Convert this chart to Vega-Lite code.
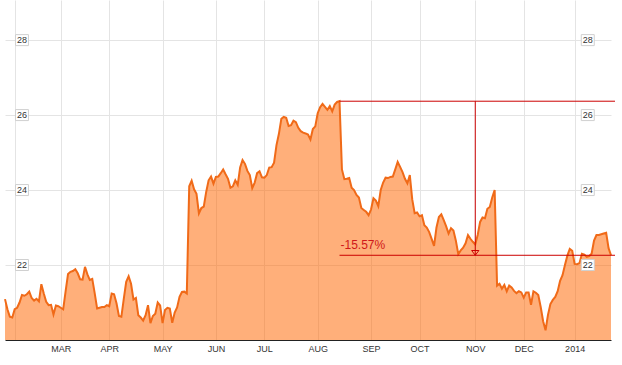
{
  "$schema": "https://vega.github.io/schema/vega-lite/v6.json",
  "autosize": {"type": "none"},
  "padding": {"left": 5, "top": 0, "right": 0, "bottom": 25},
  "width": 617,
  "height": 340,
  "background": "white",
  "view": {"stroke": null},
  "config": {"axis": {"gridColor": "#e4e4e4", "gridWidth": 1}},
  "datasets": {
    "prices": [
      {"date":"2013-01-28","close":21.09},{"date":"2013-01-29","close":20.82},{"date":"2013-01-30","close":20.62},{"date":"2013-01-31","close":20.6},
      {"date":"2013-02-01","close":20.82},{"date":"2013-02-04","close":20.86},{"date":"2013-02-05","close":21.0},{"date":"2013-02-06","close":21.2},{"date":"2013-02-07","close":21.18},{"date":"2013-02-08","close":21.22},{"date":"2013-02-11","close":21.29},{"date":"2013-02-12","close":21.12},{"date":"2013-02-13","close":21.05},{"date":"2013-02-14","close":21.1},{"date":"2013-02-15","close":21.03},{"date":"2013-02-19","close":21.49},{"date":"2013-02-20","close":21.24},{"date":"2013-02-21","close":21.02},{"date":"2013-02-22","close":20.93},{"date":"2013-02-25","close":20.94},{"date":"2013-02-26","close":20.68},{"date":"2013-02-27","close":20.92},{"date":"2013-02-28","close":20.9},
      {"date":"2013-03-01","close":20.86},{"date":"2013-03-04","close":20.82},{"date":"2013-03-05","close":21.3},{"date":"2013-03-06","close":21.76},{"date":"2013-03-07","close":21.82},{"date":"2013-03-08","close":21.84},{"date":"2013-03-11","close":21.89},{"date":"2013-03-12","close":21.78},{"date":"2013-03-13","close":21.62},{"date":"2013-03-14","close":21.61},{"date":"2013-03-15","close":21.95},{"date":"2013-03-18","close":21.75},{"date":"2013-03-19","close":21.6},{"date":"2013-03-20","close":21.63},{"date":"2013-03-21","close":21.25},{"date":"2013-03-22","close":20.84},{"date":"2013-03-25","close":20.86},{"date":"2013-03-26","close":20.88},{"date":"2013-03-27","close":20.88},{"date":"2013-03-28","close":20.93},
      {"date":"2013-04-01","close":20.9},{"date":"2013-04-02","close":21.24},{"date":"2013-04-03","close":21.22},{"date":"2013-04-04","close":20.98},{"date":"2013-04-05","close":20.64},{"date":"2013-04-08","close":20.62},{"date":"2013-04-09","close":21.1},{"date":"2013-04-10","close":21.55},{"date":"2013-04-11","close":21.7},{"date":"2013-04-12","close":21.5},{"date":"2013-04-15","close":21.08},{"date":"2013-04-16","close":21.12},{"date":"2013-04-17","close":20.66},{"date":"2013-04-18","close":20.6},{"date":"2013-04-19","close":20.52},{"date":"2013-04-22","close":20.66},{"date":"2013-04-23","close":20.93},{"date":"2013-04-24","close":20.45},{"date":"2013-04-25","close":20.64},{"date":"2013-04-26","close":20.7},{"date":"2013-04-29","close":21.0},{"date":"2013-04-30","close":20.92},
      {"date":"2013-05-01","close":20.45},{"date":"2013-05-02","close":20.8},{"date":"2013-05-03","close":20.86},{"date":"2013-05-06","close":20.84},{"date":"2013-05-07","close":20.46},{"date":"2013-05-08","close":20.73},{"date":"2013-05-09","close":20.87},{"date":"2013-05-10","close":21.15},{"date":"2013-05-13","close":21.28},{"date":"2013-05-14","close":21.29},{"date":"2013-05-15","close":21.24},{"date":"2013-05-16","close":24.1},{"date":"2013-05-17","close":24.25},{"date":"2013-05-20","close":24.02},{"date":"2013-05-21","close":23.9},{"date":"2013-05-22","close":23.38},{"date":"2013-05-23","close":23.52},{"date":"2013-05-24","close":23.56},{"date":"2013-05-28","close":23.95},{"date":"2013-05-29","close":24.26},{"date":"2013-05-30","close":24.36},{"date":"2013-05-31","close":24.17},
      {"date":"2013-06-03","close":24.35},{"date":"2013-06-04","close":24.36},{"date":"2013-06-05","close":24.45},{"date":"2013-06-06","close":24.55},{"date":"2013-06-07","close":24.42},{"date":"2013-06-10","close":24.3},{"date":"2013-06-11","close":24.06},{"date":"2013-06-12","close":24.1},{"date":"2013-06-13","close":24.26},{"date":"2013-06-14","close":24.14},{"date":"2013-06-17","close":24.6},{"date":"2013-06-18","close":24.8},{"date":"2013-06-19","close":24.7},{"date":"2013-06-20","close":24.51},{"date":"2013-06-21","close":24.4},{"date":"2013-06-24","close":24.05},{"date":"2013-06-25","close":24.2},{"date":"2013-06-26","close":24.45},{"date":"2013-06-27","close":24.5},{"date":"2013-06-28","close":24.34},
      {"date":"2013-07-01","close":24.33},{"date":"2013-07-02","close":24.4},{"date":"2013-07-03","close":24.6},{"date":"2013-07-05","close":24.61},{"date":"2013-07-08","close":24.73},{"date":"2013-07-09","close":25.2},{"date":"2013-07-10","close":25.5},{"date":"2013-07-11","close":25.9},{"date":"2013-07-12","close":25.95},{"date":"2013-07-15","close":25.93},{"date":"2013-07-16","close":25.71},{"date":"2013-07-17","close":25.73},{"date":"2013-07-18","close":25.85},{"date":"2013-07-19","close":25.81},{"date":"2013-07-22","close":25.66},{"date":"2013-07-23","close":25.57},{"date":"2013-07-24","close":25.53},{"date":"2013-07-25","close":25.51},{"date":"2013-07-26","close":25.48},{"date":"2013-07-29","close":25.35},{"date":"2013-07-30","close":25.63},{"date":"2013-07-31","close":25.7},
      {"date":"2013-08-01","close":26.05},{"date":"2013-08-02","close":26.21},{"date":"2013-08-05","close":26.3},{"date":"2013-08-06","close":26.22},{"date":"2013-08-07","close":26.14},{"date":"2013-08-08","close":26.24},{"date":"2013-08-09","close":26.1},{"date":"2013-08-12","close":26.28},{"date":"2013-08-13","close":26.35},{"date":"2013-08-14","close":26.37},{"date":"2013-08-15","close":24.55},{"date":"2013-08-16","close":24.29},{"date":"2013-08-19","close":24.3},{"date":"2013-08-20","close":24.32},{"date":"2013-08-21","close":24.06},{"date":"2013-08-22","close":24.0},{"date":"2013-08-23","close":23.87},{"date":"2013-08-26","close":23.8},{"date":"2013-08-27","close":23.52},{"date":"2013-08-28","close":23.47},{"date":"2013-08-29","close":23.42},{"date":"2013-08-30","close":23.33},
      {"date":"2013-09-03","close":23.48},{"date":"2013-09-04","close":23.78},{"date":"2013-09-05","close":23.72},{"date":"2013-09-06","close":23.57},{"date":"2013-09-09","close":24.0},{"date":"2013-09-10","close":24.2},{"date":"2013-09-11","close":24.33},{"date":"2013-09-12","close":24.32},{"date":"2013-09-13","close":24.35},{"date":"2013-09-16","close":24.36},{"date":"2013-09-17","close":24.55},{"date":"2013-09-18","close":24.75},{"date":"2013-09-19","close":24.62},{"date":"2013-09-20","close":24.48},{"date":"2013-09-23","close":24.3},{"date":"2013-09-24","close":24.18},{"date":"2013-09-25","close":24.4},{"date":"2013-09-26","close":23.75},{"date":"2013-09-27","close":23.38},{"date":"2013-09-30","close":23.4},
      {"date":"2013-10-01","close":23.3},{"date":"2013-10-02","close":23.33},{"date":"2013-10-03","close":23.06},{"date":"2013-10-04","close":23.0},{"date":"2013-10-07","close":22.88},{"date":"2013-10-08","close":22.7},{"date":"2013-10-09","close":22.51},{"date":"2013-10-10","close":23.0},{"date":"2013-10-11","close":23.28},{"date":"2013-10-14","close":23.35},{"date":"2013-10-15","close":23.2},{"date":"2013-10-16","close":23.03},{"date":"2013-10-17","close":22.84},{"date":"2013-10-18","close":22.98},{"date":"2013-10-21","close":22.92},{"date":"2013-10-22","close":22.65},{"date":"2013-10-23","close":22.29},{"date":"2013-10-24","close":22.39},{"date":"2013-10-25","close":22.46},{"date":"2013-10-28","close":22.58},{"date":"2013-10-29","close":22.8},{"date":"2013-10-30","close":22.7},{"date":"2013-10-31","close":22.62},
      {"date":"2013-11-01","close":22.55},{"date":"2013-11-04","close":22.8},{"date":"2013-11-05","close":23.15},{"date":"2013-11-06","close":23.27},{"date":"2013-11-07","close":23.25},{"date":"2013-11-08","close":23.5},{"date":"2013-11-11","close":23.55},{"date":"2013-11-12","close":23.8},{"date":"2013-11-13","close":24.0},{"date":"2013-11-14","close":21.45},{"date":"2013-11-15","close":21.5},{"date":"2013-11-18","close":21.37},{"date":"2013-11-19","close":21.47},{"date":"2013-11-20","close":21.3},{"date":"2013-11-21","close":21.45},{"date":"2013-11-22","close":21.4},{"date":"2013-11-25","close":21.31},{"date":"2013-11-26","close":21.25},{"date":"2013-11-27","close":21.3},{"date":"2013-11-29","close":21.27},
      {"date":"2013-12-02","close":21.13},{"date":"2013-12-03","close":21.27},{"date":"2013-12-04","close":21.27},{"date":"2013-12-05","close":20.94},{"date":"2013-12-06","close":21.3},{"date":"2013-12-09","close":21.26},{"date":"2013-12-10","close":21.2},{"date":"2013-12-11","close":20.88},{"date":"2013-12-12","close":20.5},{"date":"2013-12-13","close":20.26},{"date":"2013-12-16","close":20.67},{"date":"2013-12-17","close":20.96},{"date":"2013-12-18","close":21.07},{"date":"2013-12-19","close":21.15},{"date":"2013-12-20","close":21.3},{"date":"2013-12-23","close":21.58},{"date":"2013-12-24","close":21.73},{"date":"2013-12-26","close":22.0},{"date":"2013-12-27","close":22.25},{"date":"2013-12-30","close":22.43},{"date":"2013-12-31","close":22.38},
      {"date":"2014-01-02","close":22.03},{"date":"2014-01-03","close":22.02},{"date":"2014-01-06","close":22.05},{"date":"2014-01-07","close":22.3},{"date":"2014-01-08","close":22.28},{"date":"2014-01-09","close":22.22},{"date":"2014-01-10","close":22.24},{"date":"2014-01-13","close":22.3},{"date":"2014-01-14","close":22.65},{"date":"2014-01-15","close":22.8},{"date":"2014-01-16","close":22.8},{"date":"2014-01-17","close":22.82},{"date":"2014-01-21","close":22.84},{"date":"2014-01-22","close":22.86},{"date":"2014-01-23","close":22.45},{"date":"2014-01-24","close":22.26}
    ],
    "change": [
      {"start": "2013-08-14", "end": "2014-01-24", "mid": "2013-11-01", "high": 26.37, "low": 22.26, "label": "-15.57%"}
    ],
    "ticks": [{"v": 22}, {"v": 24}, {"v": 26}, {"v": 28}]
  },
  "layer": [
    {
      "data": {"name": "prices"},
      "mark": {"type": "area", "color": "#ff6600", "fillOpacity": 0.52, "line": {"color": "#f06a18", "strokeWidth": 2}},
      "encoding": {
        "x": {
          "field": "date", "type": "ordinal",
          "scale": {"type": "point", "padding": 0, "range": [0, 606]},
          "axis": {
            "title": null,
            "values": ["2013-02-01","2013-03-01","2013-04-01","2013-05-01","2013-06-03","2013-07-01","2013-08-01","2013-09-03","2013-10-01","2013-11-01","2013-12-02","2014-01-02"],
            "labelExpr": "slice(datum.value,5,7) == '02' ? '' : slice(datum.value,5,7) == '01' ? slice(datum.value,0,4) : upper(timeFormat(datetime(toNumber(slice(datum.value,0,4)), toNumber(slice(datum.value,5,7)) - 1, 15), '%b'))",
            "labelAngle": 0,
            "labelOverlap": false,
            "grid": true,
            "ticks": false,
            "domain": true,
            "domainColor": "#222222",
            "domainWidth": 1.2,
            "labelColor": "#333333",
            "labelFont": "Liberation Sans",
            "labelFontSize": 9,
            "labelPadding": 4
          }
        },
        "y": {
          "field": "close", "type": "quantitative",
          "scale": {"domain": [20, 29.07], "nice": false, "zero": false},
          "axis": {"title": null, "values": [22, 24, 26, 28], "grid": true, "labels": false, "ticks": false, "domain": false}
        },
        "y2": {"datum": 20}
      }
    },
    {
      "data": {"name": "change"},
      "mark": {"type": "rule", "color": "#cc0000", "strokeWidth": 1, "x2Offset": 4},
      "encoding": {
        "x": {"field": "start", "type": "ordinal", "title": null},
        "x2": {"field": "end"},
        "y": {"field": "high", "type": "quantitative", "title": null}
      }
    },
    {
      "data": {"name": "change"},
      "mark": {"type": "rule", "color": "#cc0000", "strokeWidth": 1, "x2Offset": 4},
      "encoding": {
        "x": {"field": "start", "type": "ordinal", "title": null},
        "x2": {"field": "end"},
        "y": {"field": "low", "type": "quantitative", "title": null}
      }
    },
    {
      "data": {"name": "change"},
      "mark": {"type": "rule", "color": "#cc0000", "strokeWidth": 1},
      "encoding": {
        "x": {"field": "mid", "type": "ordinal", "title": null},
        "y": {"field": "high", "type": "quantitative", "title": null},
        "y2": {"field": "low"}
      }
    },
    {
      "data": {"name": "change"},
      "mark": {"type": "point", "shape": "M-1,-0.65L1,-0.65L0,0.65Z", "size": 53, "filled": false, "stroke": "#cc0000", "strokeWidth": 1, "opacity": 1, "yOffset": -2.4},
      "encoding": {
        "x": {"field": "mid", "type": "ordinal", "title": null},
        "y": {"field": "low", "type": "quantitative", "title": null}
      }
    },
    {
      "data": {"name": "change"},
      "mark": {"type": "text", "color": "#d01818", "font": "Liberation Sans", "fontSize": 12, "align": "left", "baseline": "alphabetic", "dx": 1, "dy": -6},
      "encoding": {
        "x": {"field": "start", "type": "ordinal", "title": null},
        "y": {"field": "low", "type": "quantitative", "title": null},
        "text": {"field": "label"}
      }
    },
    {
      "data": {"name": "ticks"},
      "mark": {"type": "point", "shape": "M-1.18,-1H1.18V1H-1.18Z", "size": 121, "filled": true, "fill": "white", "stroke": "#d0d0d0", "strokeWidth": 1, "opacity": 1},
      "encoding": {
        "x": {"datum": "2013-02-06", "type": "ordinal"},
        "y": {"field": "v", "type": "quantitative", "title": null}
      }
    },
    {
      "data": {"name": "ticks"},
      "mark": {"type": "text", "color": "#333333", "font": "Liberation Sans", "fontSize": 9, "align": "center", "baseline": "middle"},
      "encoding": {
        "x": {"datum": "2013-02-06", "type": "ordinal"},
        "y": {"field": "v", "type": "quantitative", "title": null},
        "text": {"field": "v"}
      }
    },
    {
      "data": {"name": "ticks"},
      "mark": {"type": "point", "shape": "M-1.18,-1H1.18V1H-1.18Z", "size": 121, "filled": true, "fill": "white", "stroke": "#d0d0d0", "strokeWidth": 1, "opacity": 1, "xOffset": 1},
      "encoding": {
        "x": {"datum": "2014-01-09", "type": "ordinal"},
        "y": {"field": "v", "type": "quantitative", "title": null}
      }
    },
    {
      "data": {"name": "ticks"},
      "mark": {"type": "text", "color": "#333333", "font": "Liberation Sans", "fontSize": 9, "align": "center", "baseline": "middle", "dx": 1},
      "encoding": {
        "x": {"datum": "2014-01-09", "type": "ordinal"},
        "y": {"field": "v", "type": "quantitative", "title": null},
        "text": {"field": "v"}
      }
    }
  ]
}
